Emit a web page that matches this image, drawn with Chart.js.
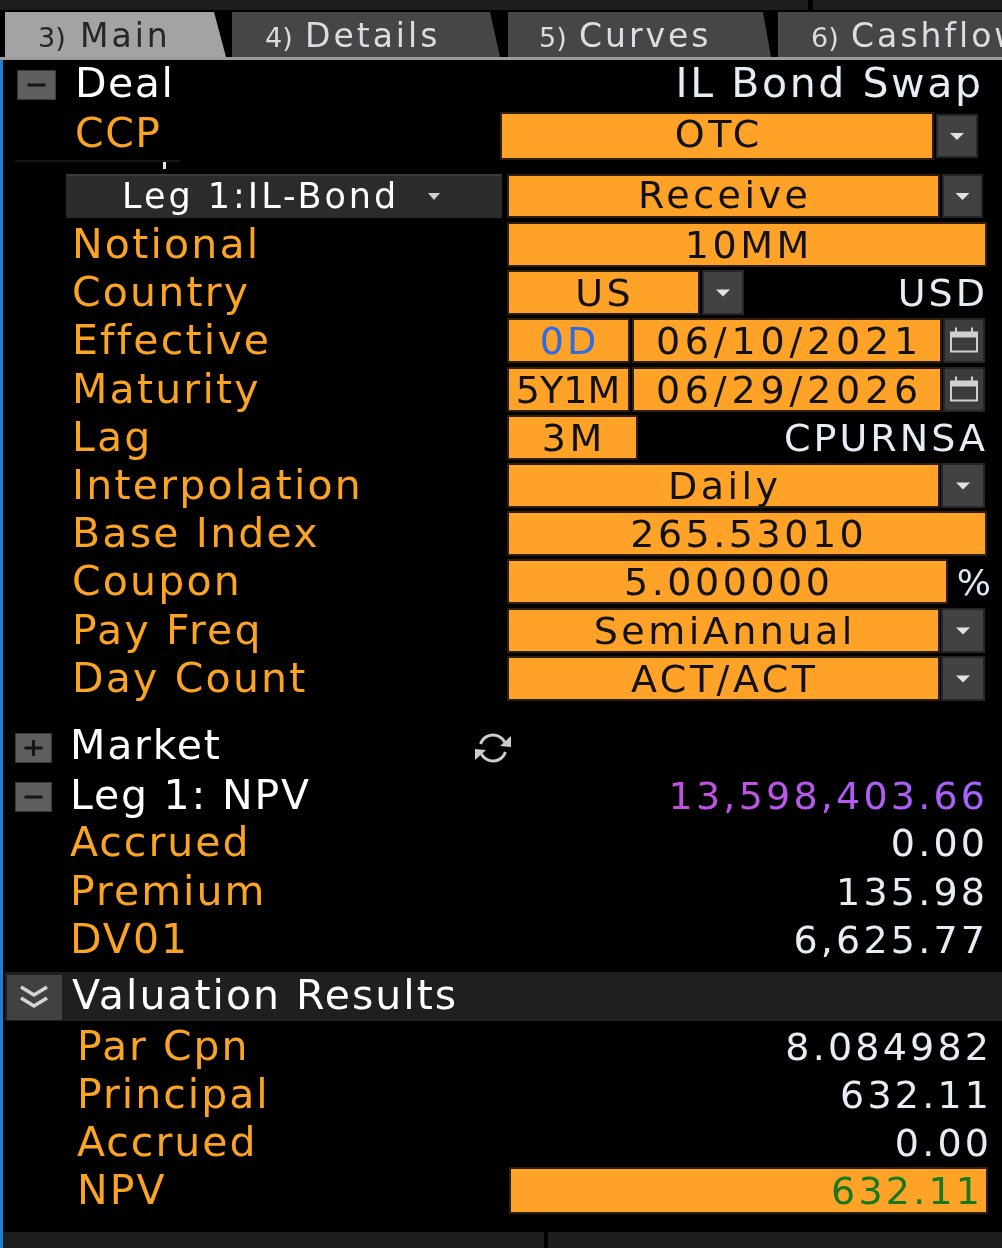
<!DOCTYPE html>
<html>
<head>
<meta charset="utf-8">
<script src="https://cdn.jsdelivr.net/npm/chart.js@4.4.1/dist/chart.umd.min.js"></script>
<style>
  html, body { margin: 0; padding: 0; background: #000; overflow: hidden; }
  canvas { display: block; }
</style>
</head>
<body>
<canvas id="panel" width="1002" height="1248"></canvas>
<script>
// screen content
const tabNumbers = ['3)', '4)', '5)', '6)'];
const tabNames = ['Main', 'Details', 'Curves', 'Cashflow'];
const dealType = 'IL Bond Swap';
const ccpValue = 'OTC';
const legName = 'Leg 1:IL-Bond';
const legDirection = 'Receive';
const legLabels = ['Notional', 'Country', 'Effective', 'Maturity', 'Lag', 'Interpolation',
  'Base Index', 'Coupon', 'Pay Freq', 'Day Count'];
const legValues = ['10MM', 'US', '06/10/2021', '06/29/2026', '3M', 'Daily',
  '265.53010', '5.000000', 'SemiAnnual', 'ACT/ACT'];
const legTenors = ['', '', '0D', '5Y1M', '', '', '', '', '', ''];
const legNotes = ['', 'USD', '', '', 'CPURNSA', '', '', '%', '', ''];
const legNpv = '13,598,403.66';
const npvLabels = ['Accrued', 'Premium', 'DV01'];
const npvValues = ['0.00', '135.98', '6,625.77'];
const resultLabels = ['Par Cpn', 'Principal', 'Accrued', 'NPV'];
const resultValues = ['8.084982', '632.11', '0.00', '632.11'];

// how each leg field is laid out (style only)
const legKinds = ['wide', 'country', 'date', 'date', 'lag', 'drop', 'wide', 'pct', 'drop', 'drop'];

const FONT = '"DejaVu Sans", Verdana, sans-serif';
const ORANGE = '#ffa228';
const LABEL = '#fba323';
const LIGHT = '#e6edf4';

function txt(ctx, s, x, y, size, color, align, spacing) {
  ctx.font = size + 'px ' + FONT;
  ctx.fillStyle = color;
  ctx.textAlign = align || 'left';
  ctx.textBaseline = 'alphabetic';
  ctx.letterSpacing = (spacing || 0) + 'px';
  let dx = 0;
  if (align === 'right') dx = spacing || 0;
  if (align === 'center') dx = (spacing || 0) / 2;
  ctx.fillText(s, x + dx, y);
  ctx.letterSpacing = '0px';
}

function field(ctx, x1, y1, x2, y2) {
  ctx.fillStyle = '#2e1f08';
  ctx.fillRect(x1, y1, x2 - x1, y2 - y1);
  ctx.fillStyle = ORANGE;
  ctx.fillRect(x1 + 2, y1 + 2, x2 - x1 - 4, y2 - y1 - 4);
}

function dropdown(ctx, x1, y1, x2, y2) {
  ctx.fillStyle = '#262626';
  ctx.fillRect(x1, y1, x2 - x1, y2 - y1);
  ctx.fillStyle = '#424242';
  ctx.fillRect(x1 + 2, y1 + 2, x2 - x1 - 4, y2 - y1 - 4);
  const cx = (x1 + x2) / 2, cy = (y1 + y2) / 2;
  ctx.fillStyle = '#e2e2e2';
  ctx.beginPath();
  ctx.moveTo(cx - 7, cy - 3);
  ctx.lineTo(cx + 7, cy - 3);
  ctx.lineTo(cx, cy + 4);
  ctx.closePath();
  ctx.fill();
}

function calendar(ctx, x1, y1, x2, y2) {
  ctx.fillStyle = '#262626';
  ctx.fillRect(x1, y1, x2 - x1, y2 - y1);
  ctx.fillStyle = '#3c3c3c';
  ctx.fillRect(x1 + 2, y1 + 2, x2 - x1 - 4, y2 - y1 - 4);
  const cx = (x1 + x2) / 2, cy = (y1 + y2) / 2;
  ctx.strokeStyle = '#cfcfcf';
  ctx.fillStyle = '#cfcfcf';
  ctx.lineWidth = 2;
  ctx.strokeRect(cx - 13, cy - 8, 26, 19);
  ctx.fillRect(cx - 13, cy - 8, 26, 5);
  ctx.fillRect(cx - 9, cy - 13, 2, 6);
  ctx.fillRect(cx + 7, cy - 13, 2, 6);
}

function toggle(ctx, x1, y1, x2, y2, plus) {
  ctx.fillStyle = '#3a3a3a';
  ctx.fillRect(x1, y1, x2 - x1, y2 - y1);
  ctx.fillStyle = '#5e5e5e';
  ctx.fillRect(x1 + 1, y1 + 1, x2 - x1 - 2, y2 - y1 - 2);
  const cx = (x1 + x2) / 2, cy = (y1 + y2) / 2;
  ctx.fillStyle = '#151515';
  ctx.fillRect(cx - 9, cy - 1.5, 18, 3);
  if (plus) ctx.fillRect(cx - 1.5, cy - 8, 3, 16);
}

function refreshIcon(ctx, cx, cy) {
  ctx.strokeStyle = '#cdcdcd';
  ctx.fillStyle = '#cdcdcd';
  ctx.lineWidth = 3;
  const r = 13;
  ctx.beginPath();
  ctx.arc(cx, cy, r, Math.PI * 1.1, Math.PI * 1.85);
  ctx.stroke();
  ctx.beginPath();
  ctx.arc(cx, cy, r, Math.PI * 0.1, Math.PI * 0.85);
  ctx.stroke();
  // arrow heads
  ctx.beginPath();
  ctx.moveTo(cx + 18, cy - 12); ctx.lineTo(cx + 18, cy - 1); ctx.lineTo(cx + 7, cy - 2);
  ctx.closePath(); ctx.fill();
  ctx.beginPath();
  ctx.moveTo(cx - 18, cy + 12); ctx.lineTo(cx - 18, cy + 1); ctx.lineTo(cx - 7, cy + 2);
  ctx.closePath(); ctx.fill();
}

function tab(ctx, x1, x2top, x2bot, color) {
  ctx.fillStyle = color;
  ctx.beginPath();
  ctx.moveTo(x1, 12);
  ctx.lineTo(x2top, 12);
  ctx.lineTo(x2bot, 57);
  ctx.lineTo(x1, 57);
  ctx.closePath();
  ctx.fill();
}

const panelPlugin = {
  id: 'panel',
  afterDraw(chart) {
    const ctx = chart.ctx;
    ctx.save();
    ctx.fillStyle = '#000';
    ctx.fillRect(0, 0, 1002, 1248);

    // top strip
    ctx.fillStyle = '#1d1d1d';
    ctx.fillRect(0, 0, 1002, 10);
    ctx.fillStyle = '#000';
    ctx.fillRect(808, 0, 5, 10);

    // tabs
    const tabShapes = [[5, 214, 226], [232, 490, 500], [508, 763, 771], [778, 1010, 1010]];
    const tabText = [[38, 80], [265, 305], [539, 579], [811, 851]];
    tabShapes.forEach((t, i) => {
      tab(ctx, t[0], t[1], t[2], i === 0 ? '#a3a3a3' : '#464646');
      const c = i === 0 ? '#262626' : '#d9dee3';
      txt(ctx, tabNumbers[i], tabText[i][0], 47, 27, c, 'left', 0);
      txt(ctx, tabNames[i], tabText[i][1], 47, 33, c, 'left', 3);
    });
    ctx.fillStyle = '#9b9b9b';
    ctx.fillRect(0, 57, 1002, 3);

    // left accent line
    ctx.fillStyle = '#1f7fd6';
    ctx.fillRect(0, 60, 3, 1188);

    // deal header
    toggle(ctx, 17, 70, 56, 100, false);
    txt(ctx, 'Deal', 75, 97, 41, '#ffffff', 'left', 1.5);
    txt(ctx, dealType, 981, 97, 41, LIGHT, 'right', 2.6);

    // CCP
    txt(ctx, 'CCP', 75, 147, 41, LABEL, 'left', 1.5);
    field(ctx, 500, 112, 934, 160);
    txt(ctx, ccpValue, 717, 147, 38, '#111', 'center', 3.5);
    dropdown(ctx, 936, 114, 978, 158);
    ctx.fillStyle = '#161616';
    ctx.fillRect(15, 160, 165, 2);
    ctx.fillStyle = '#dfe8f2';
    ctx.fillRect(163, 162, 3, 7);

    // leg header
    ctx.fillStyle = '#2b2b2b';
    ctx.fillRect(66, 174, 436, 44);
    ctx.fillStyle = '#3a3a3a';
    ctx.fillRect(66, 174, 436, 2);
    txt(ctx, legName, 122, 208, 35, '#ffffff', 'left', 3);
    ctx.fillStyle = '#cfcfcf';
    ctx.beginPath();
    ctx.moveTo(428, 193); ctx.lineTo(440, 193); ctx.lineTo(434, 200);
    ctx.closePath(); ctx.fill();
    field(ctx, 507, 174, 940, 218);
    txt(ctx, legDirection, 723, 208, 38, '#111', 'center', 3.5);
    dropdown(ctx, 942, 174, 983, 218);

    // leg rows
    legLabels.forEach((label, i) => {
      const top = Math.round(222 + i * 48.2);
      const bot = top + 45;
      const base = top + 36;
      txt(ctx, label, 72, base, 41, LABEL, 'left', 2.2);
      const kind = legKinds[i];
      const val = legValues[i];
      if (kind === 'wide') {
        field(ctx, 507, top, 987, bot);
        txt(ctx, val, 747, base, 38, '#111', 'center', 3.5);
      } else if (kind === 'country') {
        field(ctx, 507, top, 700, bot);
        txt(ctx, val, 603, base, 38, '#111', 'center', 3.5);
        dropdown(ctx, 702, top, 744, bot);
        txt(ctx, legNotes[i], 985, base, 38, LIGHT, 'right', 3);
      } else if (kind === 'date') {
        field(ctx, 507, top, 630, bot);
        const tColor = i === 2 ? '#2f6be4' : '#111';
        txt(ctx, legTenors[i], 568, base, 38, tColor, 'center', i === 2 ? 3 : 0);
        field(ctx, 632, top, 942, bot);
        txt(ctx, val, 787, base, 38, '#111', 'center', 4.8);
        calendar(ctx, 943, top, 985, bot);
      } else if (kind === 'lag') {
        field(ctx, 507, top, 638, bot);
        txt(ctx, val, 572, base, 38, '#111', 'center', 3.5);
        txt(ctx, legNotes[i], 985, base, 38, LIGHT, 'right', 3);
      } else if (kind === 'drop') {
        field(ctx, 507, top, 940, bot);
        txt(ctx, val, 723, base, 38, '#111', 'center', 3.5);
        dropdown(ctx, 941, top, 985, bot);
      } else if (kind === 'pct') {
        field(ctx, 507, top, 948, bot);
        txt(ctx, val, 727, base, 38, '#111', 'center', 3.5);
        txt(ctx, legNotes[i], 991, base, 36, '#dfe9f5', 'right', 0);
      }
    });

    // market / leg npv
    toggle(ctx, 15, 733, 52, 763, true);
    txt(ctx, 'Market', 70, 759, 41, '#ffffff', 'left', 1.8);
    refreshIcon(ctx, 493, 748);
    toggle(ctx, 15, 782, 52, 812, false);
    txt(ctx, 'Leg 1: NPV', 70, 809, 41, '#ffffff', 'left', 1.8);
    const grad = ctx.createLinearGradient(672, 0, 985, 0);
    grad.addColorStop(0, '#c44fe0');
    grad.addColorStop(1, '#a664ff');
    txt(ctx, legNpv, 985, 809, 38, grad, 'right', 3.2);
    npvLabels.forEach((label, i) => {
      const base = Math.round(856 + i * 48.5);
      txt(ctx, label, 70, base, 41, LABEL, 'left', 2);
      txt(ctx, npvValues[i], 985, base, 38, LIGHT, 'right', 3.2);
    });

    // valuation results
    ctx.fillStyle = '#1f1f1f';
    ctx.fillRect(5, 972, 997, 49);
    ctx.fillStyle = '#414141';
    ctx.fillRect(7, 975, 55, 45);
    ctx.strokeStyle = '#d4d4d4';
    ctx.lineWidth = 3.5;
    [987, 998].forEach(y => {
      ctx.beginPath();
      ctx.moveTo(21, y); ctx.lineTo(34, y + 8); ctx.lineTo(47, y);
      ctx.stroke();
    });
    txt(ctx, 'Valuation Results', 72, 1009, 41, '#ffffff', 'left', 2);

    resultLabels.forEach((label, i) => {
      const base = 1060 + i * 48;
      txt(ctx, label, 77, base, 41, LABEL, 'left', 2);
      if (i === resultLabels.length - 1) {
        field(ctx, 509, 1167, 988, 1214);
        txt(ctx, resultValues[i], 980, base, 38, '#16791a', 'right', 3.2);
      } else {
        txt(ctx, resultValues[i], 989, base, 38, LIGHT, 'right', 3.2);
      }
    });

    // bottom strip
    ctx.fillStyle = '#1e1e1e';
    ctx.fillRect(3, 1232, 999, 16);
    ctx.fillStyle = '#000';
    ctx.fillRect(544, 1232, 4, 16);

    ctx.restore();
  }
};

new Chart(document.getElementById('panel'), {
  type: 'bar',
  data: { labels: [], datasets: [] },
  options: {
    responsive: false,
    animation: false,
    events: [],
    layout: { padding: 0 },
    plugins: { legend: { display: false }, tooltip: { enabled: false } },
    scales: { x: { display: false }, y: { display: false } }
  },
  plugins: [panelPlugin]
});
</script>
</body>
</html>
